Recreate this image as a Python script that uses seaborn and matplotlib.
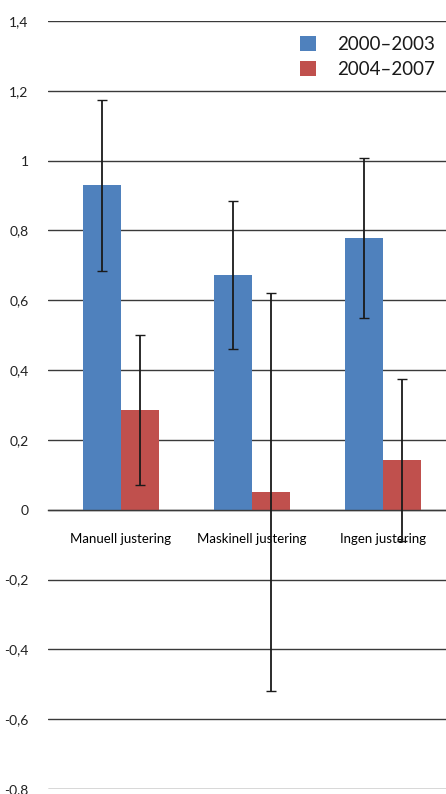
import pandas as pd
import numpy as np
import matplotlib.pyplot as plt
import seaborn as sns
from matplotlib.ticker import FixedLocator

categories = ['Manuell justering', 'Maskinell justering', 'Ingen justering']
periods = ['2000–2003', '2004–2007']
values_0003 = [0.93, 0.673, 0.779]
values_0407 = [0.285, 0.052, 0.142]
err_0003 = [0.245, 0.212, 0.229]
err_0407 = [0.215, 0.570, 0.231]
yticks = [-0.8, -0.6, -0.4, -0.2, 0, 0.2, 0.4, 0.6, 0.8, 1, 1.2, 1.4]

sns.set_style('white')
plt.rcParams['font.family'] = ['Lato', 'DejaVu Sans']

df = pd.DataFrame({
    'kategori': categories * 2,
    'periode': [periods[0]] * 3 + [periods[1]] * 3,
    'verdi': values_0003 + values_0407,
})

fig = plt.figure(figsize=(4.46, 7.94), dpi=100)
ax = fig.add_axes([0.1076, 0.0063, 0.8924, 0.9673])

ax.set_ylim(-0.8, 1.4)
ax.set_yticks(yticks)
ax.yaxis.grid(True, color='#3a3a3a', linewidth=1.0)
ax.set_axisbelow(True)

sns.barplot(data=df, x='kategori', y='verdi', hue='periode',
            palette=['#4F81BD', '#C0504D'], saturation=1, width=0.58, gap=0,
            errorbar=None, linewidth=0, ax=ax, zorder=2)

errs = [err_0003, err_0407]
for cont, vals, e in zip(ax.containers, [values_0003, values_0407], errs):
    xs = [p.get_x() + p.get_width() / 2 for p in cont.patches]
    ax.errorbar(xs, vals, yerr=e, fmt='none', ecolor='#1a1a1a',
                elinewidth=1.3, capsize=3.5, capthick=1.0, zorder=4)

ax.set_xlim(-0.557, 2.48)
ax.set_xlabel('')
ax.set_ylabel('')

for s in ['left', 'right', 'top']:
    ax.spines[s].set_visible(False)
ax.spines['bottom'].set_position(('data', 0))
ax.spines['bottom'].set_color('#3a3a3a')
ax.spines['bottom'].set_linewidth(1.0)

ax.tick_params(axis='x', which='major', length=0, pad=17, labelsize=9.5,
               colors='black')
ax.xaxis.set_minor_locator(FixedLocator([0.5, 1.5]))
ax.tick_params(axis='x', which='minor', length=6, width=1.0,
               color='#3a3a3a', direction='out')
ax.tick_params(axis='y', length=0, pad=14, labelsize=10, colors='#222222')
ax.set_yticklabels([('%g' % t).replace('.', ',') for t in yticks])

handles, labels = ax.get_legend_handles_labels()
leg = ax.legend(handles, labels, loc='upper right', bbox_to_anchor=(1.0, 0.995),
                frameon=False, fontsize=13.5, handlelength=0.85, handleheight=0.85,
                handletextpad=1.1, labelspacing=0.4, borderaxespad=0.2)
for t in leg.get_texts():
    t.set_color('#1a1a1a')

fig.savefig('out.png', dpi=100)
